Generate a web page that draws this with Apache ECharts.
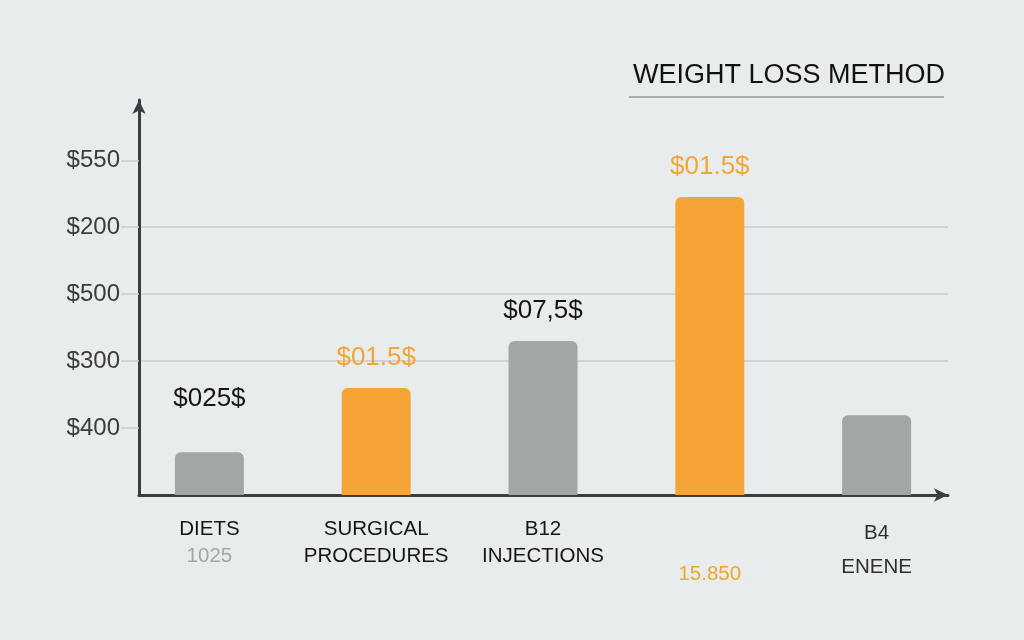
<!DOCTYPE html>
<html>
<head>
<meta charset="utf-8">
<script src="https://cdn.jsdelivr.net/npm/echarts@6/dist/echarts.min.js"></script>
<style>
  html, body { margin: 0; padding: 0; background: #e9eced; }
  #chart { width: 1024px; height: 640px; }
</style>
</head>
<body>
<div id="chart"></div>
<script>
// data (bar heights in gridline steps)
var categories = ['DIETS', 'SURGICAL', 'B12', 'X4', 'B4'];
var catLine2 = ['1025', 'PROCEDURES', 'INJECTIONS', '15.850', 'ENENE'];
var barValues = [0.64, 1.60, 2.30, 4.45, 1.19];
var barLabels = ['$025$', '$01.5$', '$07,5$', '$01.5$', ''];
var barColors = ['#a3a6a7', '#f5a535', '#a3a6a7', '#f5a535', '#a3a6a7'];
var labelColors = ['#151515', '#f5a535', '#151515', '#f5a535', '#151515'];
var tickValues = [1, 2, 3, 4, 5];
var tickLabels = ['$400', '$300', '$500', '$200', '$550'];

window.onload = function () {
var chart = echarts.init(document.getElementById('chart'));
var font = 'Liberation Sans';

chart.setOption({
    backgroundColor: '#e9eced',
    textStyle: { fontFamily: font },
    title: {
        text: 'WEIGHT LOSS METHOD',
        left: 628,
        top: 57,
        textStyle: { fontFamily: font, fontSize: 27, fontWeight: 'normal', color: '#111' }
    },
    graphic: [{
        type: 'line',
        shape: { x1: 629, y1: 97, x2: 944, y2: 97 },
        style: { stroke: '#a9acad', lineWidth: 2 }
    }],
    grid: [
        { left: 139, right: 76, top: 100, bottom: 145 },   // axes + gridlines
        { left: 126, right: 64, top: 100, bottom: 145 }    // bars
    ],
    xAxis: [{
        gridIndex: 0,
        type: 'value',
        min: 0, max: 1,
        axisLine: {
            show: true,
            symbol: ['none', 'arrow'],
            symbolSize: [10, 14],
            lineStyle: { color: '#3b3e40', width: 3 }
        },
        axisTick: { show: false },
        axisLabel: { show: false },
        splitLine: { show: false }
    }, {
        gridIndex: 1,
        type: 'category',
        data: categories,
        axisLine: { show: false },
        axisTick: { show: false },
        axisLabel: {
            margin: 21,
            interval: 0,
            formatter: function (v, i) {
                if (i === 0) return '{a|DIETS}\n{g|1025}';
                if (i === 3) return '{a|}\n{o|15.850}';
                if (i === 4) return '{b|B4}\n{b|ENENE}';
                return '{a|' + v + '}\n{a|' + catLine2[i] + '}';
            },
            rich: {
                a: { fontFamily: font, fontSize: 20.5, color: '#151515', lineHeight: 27 },
                g: { fontFamily: font, fontSize: 20.5, color: '#a3a6a7', lineHeight: 27 },
                o: { fontFamily: font, fontSize: 20.5, color: '#f0a530', lineHeight: 50, padding: [12, 0, 0, 0] },
                b: { fontFamily: font, fontSize: 20.5, color: '#2e2f30', lineHeight: 34 }
            }
        }
    }],
    yAxis: [{
        gridIndex: 0,
        type: 'value',
        min: 0, max: 5.9,
        interval: 1,
        axisLine: {
            show: true,
            symbol: ['none', 'arrow'],
            symbolSize: [10, 14],
            lineStyle: { color: '#3b3e40', width: 3 }
        },
        axisTick: {
            show: true,
            length: 18,
            customValues: tickValues,
            lineStyle: { color: '#c9cccd', width: 1.5 }
        },
        axisLabel: {
            margin: 19,
            customValues: tickValues,
            fontFamily: font,
            fontSize: 24,
            color: '#3a3b3c',
            formatter: function (v) {
                return tickLabels[tickValues.indexOf(Math.round(v))] || '';
            }
        },
        splitLine: {
            show: true,
            showMinLine: false,
            showMaxLine: false,
            lineStyle: { color: '#c9cccd', width: 1.5 }
        }
    }, {
        gridIndex: 1,
        type: 'value',
        min: 0, max: 5.9,
        show: false
    }],
    series: [{
        type: 'bar',
        xAxisIndex: 1,
        yAxisIndex: 1,
        barWidth: 69,
        data: barValues.map(function (v, i) {
            return {
                value: v,
                itemStyle: { color: barColors[i], borderRadius: [6, 6, 0, 0] },
                label: {
                    show: barLabels[i] !== '',
                    position: 'top',
                    distance: i === 0 ? 40 : 17,
                    formatter: barLabels[i],
                    fontFamily: font,
                    fontSize: 26,
                    color: labelColors[i]
                }
            };
        })
    }]
});
};
</script>
</body>
</html>
